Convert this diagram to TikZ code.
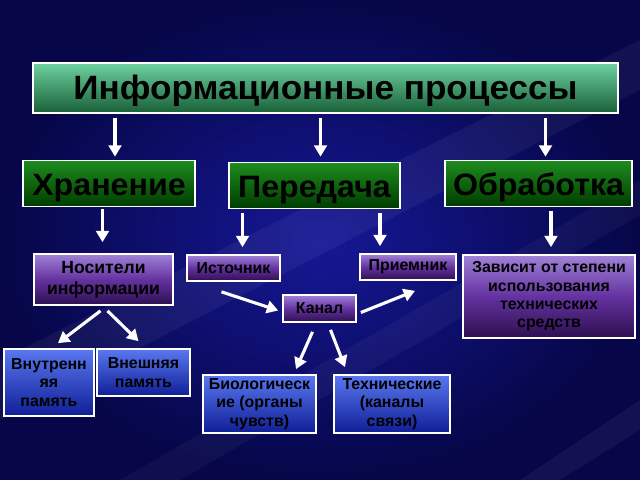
\documentclass[tikz,border=0pt]{standalone}
\usepackage{fontspec}
\setmainfont{Liberation Sans}
\newfontfamily\widefont[FakeStretch=1.04]{Liberation Sans}
\usetikzlibrary{calc,arrows.meta}

\definecolor{bgdark}{RGB}{6,6,72}
\definecolor{bgmid}{RGB}{22,24,150}
\definecolor{procA}{RGB}{110,210,160}
\definecolor{procB}{RGB}{25,95,55}
\definecolor{stageA}{RGB}{30,140,30}
\definecolor{stageB}{RGB}{0,60,0}
\definecolor{itemA}{RGB}{160,130,215}
\definecolor{itemB}{RGB}{100,50,160}
\definecolor{itemC}{RGB}{45,15,80}
\definecolor{leafA}{RGB}{90,120,240}
\definecolor{leafB}{RGB}{15,30,150}

\begin{document}
\begin{tikzpicture}[x=0.025cm,y=-0.025cm,inner sep=0mm,
  box/.style={draw=white,line width=1.2pt,align=center,text=black},
  proc/.style={box,top color=procA,bottom color=procB,text height=0.7cm,text depth=0.15cm,
    font=\widefont\bfseries\fontsize{24}{27}\selectfont},
  stage/.style={box,top color=stageA,bottom color=stageB,minimum height=1.15cm,
    text height=0.675cm,text depth=0.1cm,
    font=\widefont\bfseries\fontsize{22}{25}\selectfont},
  item/.style={box,top color=itemA,bottom color=itemC,middle color=itemB,
    font=\bfseries\fontsize{11.3}{13}\selectfont},
  leaf/.style={box,top color=leafA,bottom color=leafB,
    font=\bfseries\fontsize{11.3}{13}\selectfont},
  arr/.style={white,line width=2.2pt,-{Triangle[width=9pt,length=8pt]}}]

\useasboundingbox (0,0) rectangle (640,480);
\shade[inner color=bgmid,outer color=bgdark] (0,0) rectangle (640,480);
\fill[white,opacity=0.05] (640,40) -- (640,90) -- (0,420) -- (0,360) -- cycle;
\fill[white,opacity=0.04] (640,180) -- (640,215) -- (180,480) -- (120,480) -- cycle;
\fill[white,opacity=0.05] (640,400) -- (640,430) -- (560,480) -- (520,480) -- cycle;

\node[proc,minimum width=14.625cm,minimum height=1.25cm] (proc) at (325.5,88) {Информационные процессы};

\node[stage,minimum width=4.3cm] (store) at (109,183.5) {Хранение};
\node[stage,minimum width=4.275cm] (trans) at (314.5,185.5) {Передача};
\node[stage,minimum width=4.675cm] (work) at (538.5,183.5) {Обработка};

\node[item,minimum width=3.475cm,minimum height=1.275cm,font=\bfseries\fontsize{12.5}{15}\selectfont] (carrier) at (103.5,279.5) {Носители\\информации};
\node[item,minimum width=2.325cm,minimum height=0.65cm] (src) at (233.5,268) {Источник};
\node[item,minimum width=2.4cm,minimum height=0.65cm] (rcv) at (408,267) {Приемник};
\node[item,minimum width=4.3cm,minimum height=2.075cm] (dep) at (549,296.5) {Зависит от степени\\использования\\технических\\средств};
\node[item,minimum width=1.825cm,minimum height=0.675cm] (chan) at (319.5,308.5) {Канал};

\node[leaf,minimum width=2.25cm,minimum height=1.675cm] (inner) at (49,382.5) {Внутренн\\яя\\память};
\node[leaf,minimum width=2.325cm,minimum height=1.175cm] (outer) at (143.5,372.5) {Внешняя\\память};
\node[leaf,minimum width=2.825cm,minimum height=1.45cm] (bio) at (259.5,404) {Биологическ\\ие (органы\\чувств)};
\node[leaf,minimum width=2.9cm,minimum height=1.45cm] (tech) at (392,404) {Технические\\(каналы\\связи)};

% arrows from the title
\draw[arr] ($(proc.south -| store)+(6,4)$) -- ($(store.north)+(6,-3)$);
\draw[arr] ($(proc.south -| trans)+(6,4)$) -- ($(trans.north)+(6,-5)$);
\draw[arr] ($(proc.south -| work)+(7,4)$) -- ($(work.north)+(7,-3)$);

% second level
\draw[arr] ($(store.south -| carrier)+(-1,2)$) -- ($(carrier.north)+(-1,-11)$);
\draw[arr] ($(trans.south -| src)+(9,4)$) -- ($(src.north)+(9,-7)$);
\draw[arr] ($(trans.south -| rcv)+(-28,4)$) -- ($(rcv.north)+(-28,-7)$);
\draw[arr] ($(work.south -| dep)+(2,4)$) -- ($(dep.north)+(2,-7)$);

% channel
\draw[arr] ($(src.south)+(-12,10)$) -- ($(chan.west)+(-4,2)$);
\draw[arr] ($(chan.east)+(4,4)$) -- ($(rcv.south)+(7,10)$);
\draw[arr] ($(chan.south)+(-7,9)$) -- ($(bio.north)+(36.5,-5)$);
\draw[arr] ($(chan.south)+(11,7)$) -- ($(tech.north)+(-47,-7)$);

% memory
\draw[arr] ($(carrier.south)+(-3,5)$) -- ($(inner.north)+(9,-5)$);
\draw[arr] ($(carrier.south)+(4,5)$) -- ($(outer.north)+(-5,-7)$);

\end{tikzpicture}
\end{document}
